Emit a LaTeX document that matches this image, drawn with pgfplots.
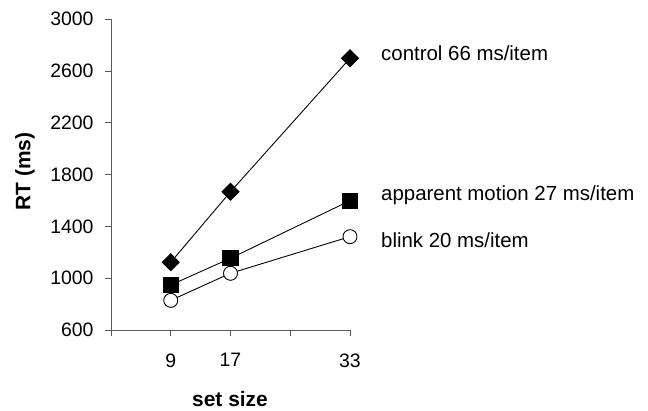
\documentclass[border=0pt]{standalone}
\usepackage{fontspec}
\setmainfont{Liberation Sans}
\usepackage{pgfplots}
\pgfplotsset{compat=1.18}
\begin{document}
\begin{tikzpicture}
\useasboundingbox (0,0) rectangle (648bp,411bp);
\begin{axis}[
  at={(111bp,81bp)}, anchor=south west,
  scale only axis, width=239bp, height=310.7bp,
  xmin=1, xmax=33, ymin=600, ymax=3000,
  enlargelimits=false,
  axis x line*=bottom, axis y line*=left,
  axis line style={draw=black!65, line width=0.8pt},
  xtick={1,9,17,25,33}, xticklabels={,9,17,,33},
  ytick={600,1000,1400,1800,2200,2600,3000},
  tick align=outside, major tick length=6bp,
  tick style={draw=black!65, line width=0.8pt},
  /pgf/number format/assume math mode=true,
  /pgf/number format/1000 sep={},
  ticklabel style={font=\fontsize{19.5}{22}\selectfont},
  yticklabel style={xshift=-8bp},
  xticklabel style={yshift=-14bp},
  xlabel={set size}, ylabel={RT (ms)},
  label style={font=\fontsize{21}{24}\selectfont\bfseries, inner sep=0pt},
  xlabel style={at={(rel axis cs:0.498,-0.247)}, anchor=base},
  ylabel style={at={(rel axis cs:-0.36,0.5095)}, anchor=center},
  clip=false,
]
\addplot[black, line width=0.9pt, mark=*, mark size=7bp, mark options={fill=white, draw=black, line width=0.9pt}] coordinates {(9,829)(17,1038)(33,1321)};
\addplot[black, line width=0.9pt, mark=square*, mark size=7.6bp, mark options={fill=black}] coordinates {(9,948)(17,1154)(33,1599)};
\addplot[black, line width=0.9pt, mark=square*, mark size=6bp, mark options={rotate=45, fill=black}] coordinates {(9,1123)(17,1668)(33,2699)};
\node[anchor=base west, font=\fontsize{20.5}{24}\selectfont, inner sep=0pt] at (rel axis cs:1.1297,0.869) {control 66 ms/item};
\node[anchor=base west, font=\fontsize{20.5}{24}\selectfont, inner sep=0pt] at (rel axis cs:1.1297,0.4152) {apparent motion 27 ms/item};
\node[anchor=base west, font=\fontsize{20.5}{24}\selectfont, inner sep=0pt] at (rel axis cs:1.1297,0.2671) {blink 20 ms/item};
\end{axis}
\end{tikzpicture}
\end{document}
